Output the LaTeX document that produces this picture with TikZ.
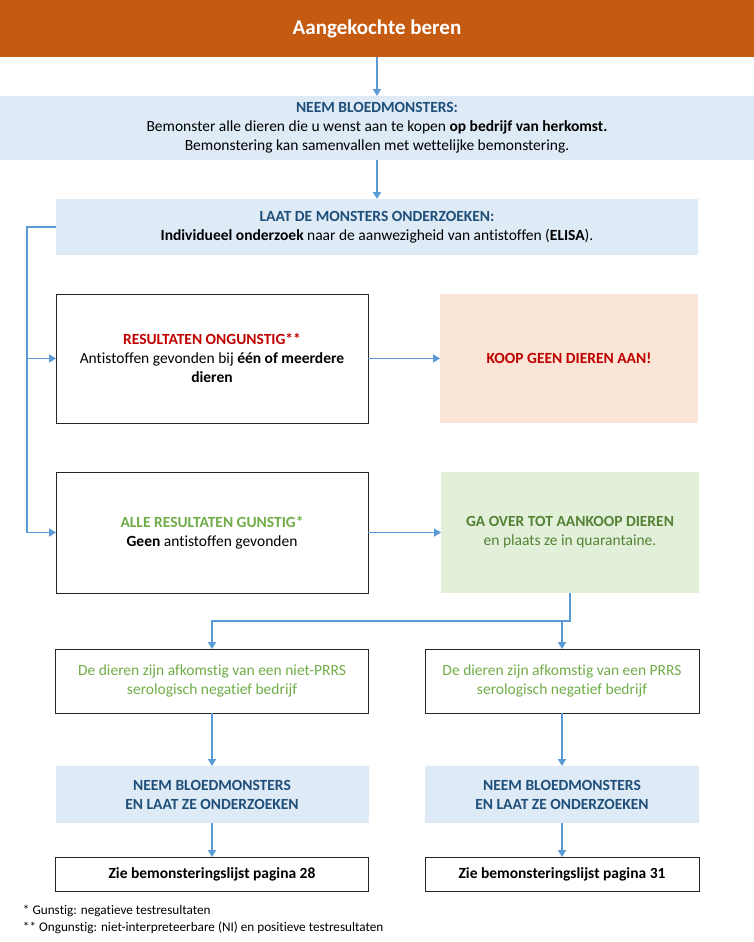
\documentclass[tikz,border=0pt]{standalone}
\usepackage{fontspec}
\setmainfont{Carlito}[Ligatures=NoCommon]
\usetikzlibrary{arrows.meta,calc}
\definecolor{orangebar}{HTML}{C55A11}
\definecolor{lblue}{HTML}{DEEBF7}
\definecolor{dblue}{HTML}{1F4E79}
\definecolor{arrblue}{HTML}{5B9BD5}
\definecolor{peach}{HTML}{FBE5D6}
\definecolor{lgreen}{HTML}{E2F0D9}
\definecolor{redtxt}{HTML}{C00000}
\definecolor{gtxt}{HTML}{70AD47}
\definecolor{dgtxt}{HTML}{548235}
\begin{document}
\begin{tikzpicture}[x=1pt,y=-1pt,
  every node/.style={inner sep=0pt,outer sep=0pt,align=center,font=\fontsize{15.5}{19}\selectfont},
  bfnt/.style={font=\fontsize{15.5}{19}\selectfont\bfseries},
  box/.style={draw=black!85,line width=0.9pt,fill=white},
  bluebox/.style={fill=lblue,draw=none},
  arr/.style={draw=arrblue,line width=1.8pt,-{Triangle[length=7pt,width=8pt]}},
  ln/.style={draw=arrblue,line width=1.8pt}]
\useasboundingbox (0,0) rectangle (754,942);
\node[fill=orangebar,minimum width=754pt,minimum height=57pt,text=white,font=\fontsize{21}{24}\selectfont\bfseries] (top) at (377,29) {Aangekochte beren};
\node[bluebox,minimum width=754pt,minimum height=64pt] (b1) at (377,128) {{\color{dblue}\bfseries NEEM BLOEDMONSTERS:}\\Bemonster alle dieren die u wenst aan te kopen \textbf{op bedrijf van herkomst.}\\Bemonstering kan samenvallen met wettelijke bemonstering.};
\node[bluebox,minimum width=642pt,minimum height=56pt] (b2) at (377,227) {{\color{dblue}\bfseries LAAT DE MONSTERS ONDERZOEKEN:}\\\textbf{Individueel onderzoek} naar de aanwezigheid van antistoffen (\textbf{ELISA}).};
\node[box,minimum width=312pt,minimum height=129pt] (ong) at (212,358.5) {{\color{redtxt}\bfseries RESULTATEN ONGUNSTIG**}\\Antistoffen gevonden bij \textbf{één of meerdere}\\\textbf{dieren}};
\node[fill=peach,minimum width=258pt,minimum height=129pt,text=redtxt,bfnt] (koop) at (569,358.5) {KOOP GEEN DIEREN AAN!};
\node[box,minimum width=312pt,minimum height=121pt] (gun) at (212,532.5) {{\color{gtxt}\bfseries ALLE RESULTATEN GUNSTIG*}\\\textbf{Geen} antistoffen gevonden};
\node[fill=lgreen,minimum width=258pt,minimum height=121pt,text=dgtxt] (ga) at (570,532.5) {\textbf{GA OVER TOT AANKOOP DIEREN}\\en plaats ze in quarantaine.};
\node[box,minimum width=313pt,minimum height=64pt,text=gtxt] (l1) at (212,681) {De dieren zijn afkomstig van een niet-PRRS\\serologisch negatief bedrijf};
\node[box,minimum width=274pt,minimum height=64pt,text=gtxt] (r1) at (562,681) {De dieren zijn afkomstig van een PRRS\\serologisch negatief bedrijf};
\node[bluebox,minimum width=313pt,minimum height=57pt,text=dblue,bfnt] (l2) at (212,794.5) {NEEM BLOEDMONSTERS\\EN LAAT ZE ONDERZOEKEN};
\node[bluebox,minimum width=274pt,minimum height=57pt,text=dblue,bfnt] (r2) at (562,794.5) {NEEM BLOEDMONSTERS\\EN LAAT ZE ONDERZOEKEN};
\node[box,minimum width=313pt,minimum height=34pt,bfnt] (l3) at (212,874) {Zie bemonsteringslijst pagina 28};
\node[box,minimum width=274pt,minimum height=34pt,bfnt] (r3) at (562,874) {Zie bemonsteringslijst pagina 31};
\node[anchor=west,font=\fontsize{13.2}{15}\selectfont] (f1) at (23,911) {* Gunstig: negatieve testresultaten};
\node[anchor=west,font=\fontsize{13.2}{15}\selectfont] (f2) at (23,928) {** Ongunstig: niet-interpreteerbare (NI) en positieve testresultaten};
% connectors
\draw[arr] (top.south) -- (b1.north);
\draw[arr] (b1.south) -- (b2.north);
\coordinate (lt) at (27,227);
\draw[arr] (b2.west) -- (lt) |- (gun.west);
\draw[arr] (lt |- ong.west) -- (ong.west);
\draw[arr] (ong.east) -- (koop.west);
\draw[arr] (gun.east) -- (ga.west);
\coordinate (jn) at (570,621);
\draw[arr] (ga.south) -- (jn) -| (l1.north);
\draw[arr] (jn -| r1.north) -- (r1.north);
\draw[arr] (l1.south) -- (l2.north);
\draw[arr] (r1.south) -- (r2.north);
\draw[arr] (l2.south) -- (l3.north);
\draw[arr] (r2.south) -- (r3.north);
\end{tikzpicture}
\end{document}
